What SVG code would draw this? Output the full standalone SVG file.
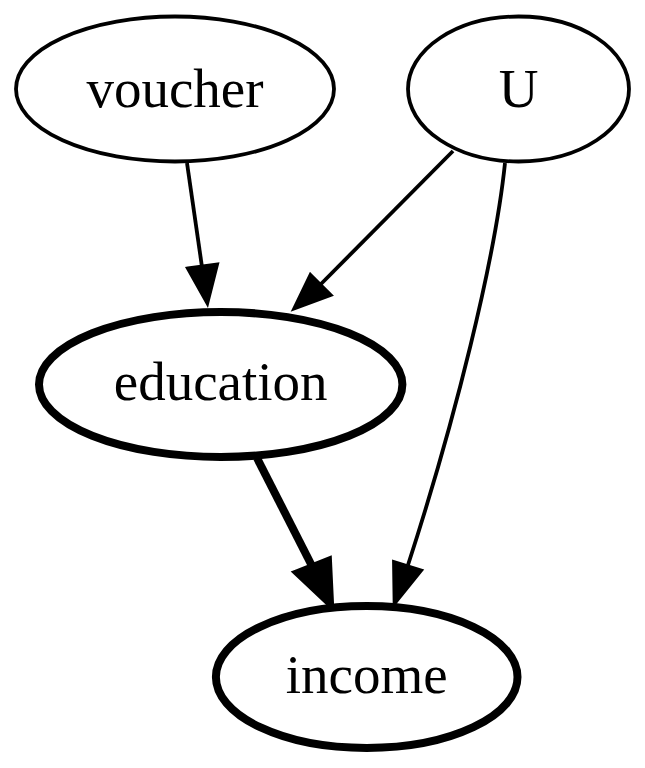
<svg xmlns="http://www.w3.org/2000/svg" width="645" height="768" viewBox="0 0 645 768">
<style>
  .node ellipse { fill: #ffffff; stroke: #000000; }
  .thin { stroke-width: 3.8; }
  .thick { stroke-width: 8; }
  .label { font-family: "Liberation Serif", "Times New Roman", serif; font-size: 55px; fill: #000000; text-anchor: middle; }
  .edge path, .edge line { fill: none; stroke: #000000; }
  .edge polygon { fill: #000000; stroke: #000000; stroke-linejoin: miter; }
</style>
<rect x="0" y="0" width="645" height="768" fill="#ffffff"/>
<g id="edges">
  <g class="edge" id="voucher_education">
    <line class="thin" x1="187" y1="163" x2="202" y2="267"/>
    <polygon class="thin" points="188,268.5 217,264.5 207.3,303"/>
  </g>
  <g class="edge" id="U_education">
    <line class="thin" x1="453" y1="151" x2="321" y2="284"/>
    <polygon class="thin" points="310.5,275 330.5,295 294.4,308.3"/>
  </g>
  <g class="edge" id="U_income">
    <path class="thin" d="M505,163 C495,260 455,420 408,565"/>
    <polygon class="thin" points="394,562 421,570.5 394.6,603.3"/>
  </g>
  <g class="edge" id="education_income">
    <line class="thick" x1="257" y1="458" x2="312" y2="566"/>
    <polygon class="thick" points="298,573 328,561 330,603"/>
  </g>
</g>
<g id="voucher" class="node">
  <ellipse class="thin" cx="175" cy="89" rx="159" ry="72.5"/>
  <text class="label" x="175" y="107">voucher</text>
</g>
<g id="U" class="node">
  <ellipse class="thin" cx="518.5" cy="89" rx="110.5" ry="72.5"/>
  <text class="label" x="518.5" y="107">U</text>
</g>
<g id="education" class="node">
  <ellipse class="thick" cx="220.7" cy="384.5" rx="181.7" ry="72.5"/>
  <text class="label" x="220.7" y="400">education</text>
</g>
<g id="income" class="node">
  <ellipse class="thick" cx="366.7" cy="677" rx="150.8" ry="71"/>
  <text class="label" x="366.7" y="693">income</text>
</g>
</svg>
